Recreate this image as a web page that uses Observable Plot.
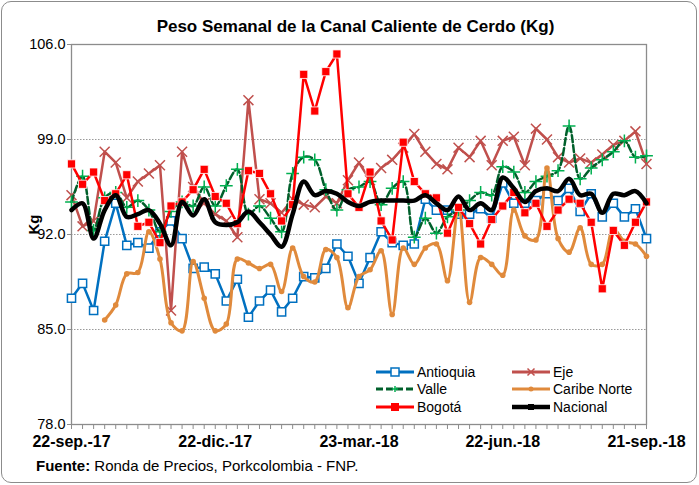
<!DOCTYPE html>
<html><head><meta charset="utf-8">
<script src="https://cdn.jsdelivr.net/npm/d3@7"></script>
<script src="https://cdn.jsdelivr.net/npm/@observablehq/plot@0.6"></script>
<style>
body{margin:0;background:#fff;font-family:"Liberation Sans",Arial,sans-serif;}
#wrap{position:relative;width:699px;height:485px;overflow:hidden;background:#fff;}
#border{position:absolute;left:1px;top:1px;width:696px;height:482px;border:1.3px solid #8c8c8c;border-radius:10px;box-sizing:border-box;}
#title{position:absolute;left:6px;top:17px;width:699px;text-align:center;font-weight:bold;font-size:17px;line-height:20px;}
#chart{position:absolute;left:0;top:30px;}
.leg{position:absolute;font-size:14px;line-height:16px;white-space:nowrap;}
.leg svg{position:absolute;left:0;top:0;}
#source{position:absolute;left:36px;top:457px;font-size:15px;}
</style></head>
<body>
<div id="wrap">
  <div id="border"></div>
  <div id="chart"></div>
  <div id="title">Peso Semanal de la Canal Caliente de Cerdo (Kg)</div>
  <div id="legend"></div>
  <div id="source"><b>Fuente:</b> Ronda de Precios, Porkcolombia - FNP.</div>
</div>
<script>
// ---- data (weekly, 22-sep-2017 .. 21-sep-2018) ----
const startDate = "2017-09-22";
const nWeeks = 53;
const antioquia = [87.3,88.4,86.4,91.5,94.3,91.2,91.4,91.0,92.2,93.0,91.7,89.5,89.6,89.1,87.1,88.7,85.9,87.1,87.9,86.3,87.3,88.9,88.8,89.5,91.3,90.4,88.4,90.3,92.2,91.4,91.2,91.3,94.6,93.8,93.8,93.5,93.5,93.9,93.2,95.8,94.3,94.3,94.5,95.0,94.5,95.4,93.7,95.0,93.3,94.3,93.3,93.9,91.7];
const eje = [94.9,92.6,93.0,98.1,97.3,94.7,95.9,96.5,97.1,86.4,98.1,95.5,94.3,93.5,93.0,91.8,101.9,94.6,94.3,93.6,94.6,94.2,94.0,94.8,94.3,96.0,97.3,96.0,96.9,97.5,98.4,99.4,98.1,97.2,96.8,98.4,97.7,98.9,97.1,98.9,99.2,97.1,99.8,99.0,97.7,97.3,97.6,97.3,97.9,98.6,98.9,99.6,97.2];
const valle = [94.4,96.3,92.3,94.7,95.1,94.0,94.5,93.8,92.2,93.7,94.4,94.1,95.5,94.1,95.6,96.8,93.5,94.1,93.2,92.2,96.5,97.7,97.5,95.3,93.8,95.3,95.5,95.9,94.2,95.4,95.9,91.8,93.2,92.1,93.3,93.8,94.5,95.1,94.9,97.0,96.6,95.1,95.9,96.3,96.7,100.0,96.1,96.9,97.5,98.1,98.9,97.7,97.8];
const caribeNorte = [null,null,null,85.7,86.8,89.1,89.2,92.2,90.2,85.5,84.9,90.0,87.3,84.9,85.4,90.2,89.9,89.5,89.8,87.8,91.0,88.9,88.5,90.9,90.3,86.6,88.9,89.4,90.8,86.1,91.0,89.8,91.0,91.3,88.6,94.0,87.0,90.3,89.8,89.0,93.8,91.9,91.6,96.9,91.7,90.7,92.5,89.8,89.8,92.4,91.5,91.3,90.4];
const bogota = [97.2,95.7,96.6,94.5,95.0,96.4,92.6,92.9,91.4,94.1,94.4,95.3,96.8,94.8,94.3,92.8,96.7,96.5,95.0,93.0,94.2,103.8,101.1,104.0,105.3,95.0,94.0,96.6,93.0,91.6,98.8,95.9,95.0,94.7,92.1,94.0,92.8,91.3,93.1,94.1,95.1,93.6,94.3,92.6,93.8,94.6,94.3,92.9,88.0,92.3,91.2,92.9,94.4];
const nacional = [93.8,94.3,91.7,93.8,94.9,93.3,93.5,93.8,92.8,91.2,94.4,93.4,94.6,92.9,92.7,92.9,93.7,92.9,92.0,91.1,93.5,95.9,94.9,95.2,95.0,94.4,94.1,94.4,94.5,94.5,94.5,94.5,94.9,94.3,93.8,94.8,93.8,94.3,93.8,96.2,95.4,94.4,95.2,95.4,95.2,96.1,94.9,95.0,93.6,95.0,94.9,95.2,94.3];
const yTicks = [78, 85, 92, 99, 106];
const xTickDates = ["2017-09-22","2017-12-22","2018-03-23","2018-06-22","2018-09-21"];
const xTickLabels = ["22-sep.-17","22-dic.-17","23-mar.-18","22-jun.-18","21-sep.-18"];

const t0 = new Date(startDate + "T00:00:00Z");
const weeks = d3.range(nWeeks).map(i => d3.utcDay.offset(t0, 7 * i));
const tickDates = xTickDates.map(s => new Date(s + "T00:00:00Z"));
const labelMap = new Map(tickDates.map((d, i) => [+d, xTickLabels[i]]));
const rows = vals => weeks.map((d, i) => ({date: d, v: vals[i]}));
const pts = vals => rows(vals).filter(d => d.v != null);

const S = {
  antioquia: {name: "Antioquia", color: "#0070C0"},
  eje: {name: "Eje", color: "#C0504D"},
  valle: {name: "Valle", color: "#00602B", mark: "#00B050"},
  caribe: {name: "Caribe Norte", color: "#E08A3C"},
  bogota: {name: "Bogotá", color: "#FF0000"},
  nacional: {name: "Nacional", color: "#000000"}
};
const smooth = "catmull-rom";

const chart = Plot.plot({
  width: 699, height: 425,
  marginTop: 14, marginBottom: 31, marginLeft: 71, marginRight: 53,
  style: {fontFamily: "'Liberation Sans', Arial, sans-serif", fontSize: "14px", color: "#000", background: "transparent", overflow: "visible"},
  x: {type: "utc", domain: [weeks[0], weeks[nWeeks - 1]]},
  y: {domain: [78, 106]},
  marks: [
    Plot.gridY(yTicks.slice(1, -1), {stroke: "#9a9a9a", strokeOpacity: 1, strokeDasharray: "1.5,1.5", strokeWidth: 1.2}),
    Plot.frame({stroke: "#8c8c8c", strokeWidth: 1.3}),
    Plot.axisY({ticks: yTicks, tickFormat: d => d.toFixed(1), tickSize: 4, tickPadding: 2, stroke: "#8c8c8c", label: null, fontSize: 14.5}),
    Plot.text(["Kg"], {frameAnchor: "left", dx: -37, rotate: -90, fontWeight: "bold", fontSize: 15}),
    Plot.axisX({ticks: weeks, tickSize: 5, tickFormat: () => "", stroke: "#8c8c8c", label: null}),
    Plot.axisX({ticks: tickDates, tickSize: 0, tickPadding: 11, tickFormat: d => labelMap.get(+d), fontWeight: "bold", fontSize: 16, label: null}),
    // Antioquia
    Plot.line(rows(antioquia), {x: "date", y: "v", stroke: S.antioquia.color, strokeWidth: 2.5}),
    Plot.dot(pts(antioquia), {x: "date", y: "v", symbol: "square", r: 4.6, fill: "white", stroke: S.antioquia.color, strokeWidth: 1.5}),
    // Eje
    Plot.line(rows(eje), {x: "date", y: "v", stroke: S.eje.color, strokeWidth: 2.5}),
    Plot.dot(pts(eje), {x: "date", y: "v", symbol: "times", r: 4.6, stroke: S.eje.color, strokeWidth: 1.5}),
    // Valle
    Plot.line(rows(valle), {x: "date", y: "v", stroke: S.valle.color, strokeWidth: 2.5, strokeDasharray: "7,3", curve: smooth}),
    Plot.dot(pts(valle), {x: "date", y: "v", symbol: "plus", r: 4.2, stroke: S.valle.mark, strokeWidth: 1.5}),
    // Caribe Norte
    Plot.line(rows(caribeNorte), {x: "date", y: "v", stroke: S.caribe.color, strokeWidth: 3, curve: smooth}),
    Plot.dot(pts(caribeNorte), {x: "date", y: "v", r: 2.8, fill: S.caribe.color}),
    // Bogotá
    Plot.line(rows(bogota), {x: "date", y: "v", stroke: S.bogota.color, strokeWidth: 2.5}),
    Plot.dot(pts(bogota), {x: "date", y: "v", symbol: "square", r: 4.6, fill: S.bogota.color, stroke: "white", strokeWidth: 0.8}),
    // Nacional
    Plot.line(rows(nacional), {x: "date", y: "v", stroke: S.nacional.color, strokeWidth: 4.5, curve: smooth})
  ]
});
document.getElementById("chart").appendChild(chart);

// ---- legend (HTML overlay inside the plot area) ----
const legendItems = [
  {s: S.antioquia, sym: "sqw", col: 0, row: 0},
  {s: S.eje, sym: "x", col: 1, row: 0},
  {s: S.valle, sym: "plus", col: 0, row: 1},
  {s: S.caribe, sym: "dot", col: 1, row: 1},
  {s: S.bogota, sym: "sqr", col: 0, row: 2},
  {s: S.nacional, sym: "blk", col: 1, row: 2}
];
const colX = [376, 512], rowY = [364, 381, 399];
const leg = document.getElementById("legend");
for (const it of legendItems) {
  const d = document.createElement("div");
  d.className = "leg";
  d.style.left = colX[it.col] + "px";
  d.style.top = rowY[it.row] + "px";
  const c = it.s.color;
  let sym = "";
  if (it.sym === "sqw") sym = `<rect x="15" y="4" width="8" height="8" fill="white" stroke="${c}" stroke-width="1.5"/>`;
  if (it.sym === "x") sym = `<path d="M15.5,4.5L22.5,11.5M22.5,4.5L15.5,11.5" stroke="${c}" stroke-width="1.5"/>`;
  if (it.sym === "plus") sym = `<path d="M19,5V11M16,8H22" stroke="${it.s.mark}" stroke-width="1.5"/>`;
  if (it.sym === "dot") sym = `<circle cx="19" cy="8" r="2.5" fill="${c}"/>`;
  if (it.sym === "sqr") sym = `<rect x="15" y="4" width="8" height="8" fill="${c}"/>`;
  if (it.sym === "blk") sym = `<rect x="16" y="5" width="6" height="6" fill="${c}"/>`;
  const sw = it.sym === "blk" ? 4.5 : 3;
  const dash = it.sym === "plus" ? ` stroke-dasharray="7,3"` : "";
  d.innerHTML = `<svg width="40" height="16"><line x1="0" y1="8" x2="38" y2="8" stroke="${c}" stroke-width="${sw}"${dash}/>${sym}</svg><span style="margin-left:41px">${it.s.name}</span>`;
  leg.appendChild(d);
}
</script>
</body></html>
